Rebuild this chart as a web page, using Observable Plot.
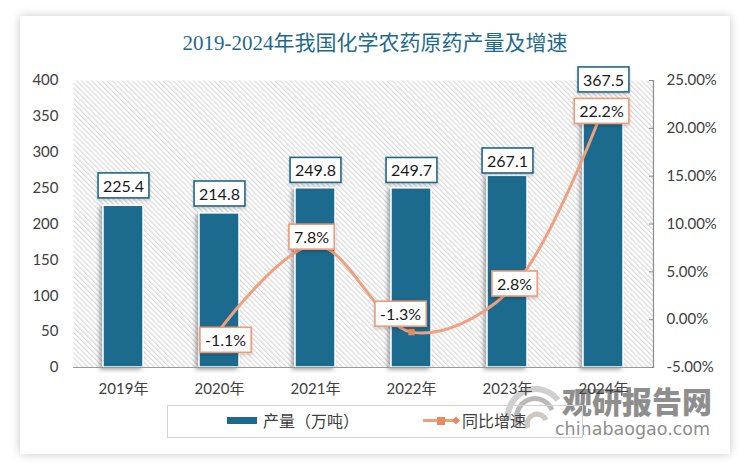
<!DOCTYPE html>
<html>
<head>
<meta charset="utf-8">
<script src="https://cdn.jsdelivr.net/npm/d3@7"></script>
<script src="https://cdn.jsdelivr.net/npm/@observablehq/plot@0.6"></script>
<style>
  html, body { margin: 0; padding: 0; background: #ffffff; }
  #wrap { position: relative; width: 750px; height: 471px; overflow: hidden; background: #fff; }
  #card { position: absolute; left: 20px; top: 16px; width: 710px; height: 438px; background: #fff;
          box-shadow: 0 0 9px rgba(0,0,0,0.22); }
  #title { position: absolute; left: 0; width: 750px; top: 29px; text-align: center;
           font-family: "Liberation Serif", "Noto Sans CJK SC", serif; font-size: 21px; color: #1e6a8d;
           line-height: 28px; white-space: nowrap; }
  #wm1 { position: absolute; left: 562px; top: 378px; font-family: "Noto Sans CJK SC", sans-serif; font-weight: 900;
         font-size: 30px; color: #8e8e8e; letter-spacing: 0px; line-height: 44px; white-space: nowrap; }
  #wm2 { position: absolute; left: 555px; top: 418px; font-family: "DejaVu Sans", sans-serif;
         font-size: 17.5px; color: #8e8e8e; line-height: 22px; white-space: nowrap; }
  #wmlogo { position: absolute; left: 500px; top: 380px; }
  #chart { position: absolute; left: 0; top: 0; }
  #legend { position: absolute; left: 167px; top: 405px; width: 414px; height: 31px; border: 1px solid #d3d3d3; }
  .lg { position: absolute; font-family: "Noto Sans CJK SC", sans-serif; font-size: 16px; color: #404040; line-height: 20px; white-space: nowrap; }
</style>
</head>
<body>
<div id="wrap">
  <div id="card"></div>
  <div id="title">2019-2024年我国化学农药原药产量及增速</div>
  <svg id="wmlogo" width="70" height="70" viewBox="0 0 70 70">
    <path d="M8,40 A28,28 0 0 1 58,20" fill="none" stroke="#cfcfcf" stroke-width="6"/>
    <path d="M18,44 A18,18 0 0 1 52,30" fill="none" stroke="#b9b9b9" stroke-width="5"/>
    <path d="M28,48 A9,9 0 0 1 46,40" fill="none" stroke="#cdc9bd" stroke-width="5"/>
  </svg>
  <div id="wm1">观研报告网</div>
  <div id="wm2">chinabaogao.com</div>
  <div id="chart"></div>
  <div id="legend"></div>
  <svg id="lgsym" style="position:absolute;left:0;top:0;" width="750" height="471">
    <rect x="227" y="417" width="30" height="7" fill="#1b6a8e"></rect>
    <line x1="423" y1="420.5" x2="459" y2="420.5" stroke="#f0a07e" stroke-width="3"></line>
    <rect x="437" y="417" width="8" height="8" fill="#e8895f"></rect>
    <path d="M452,420.5 L456,416.5 L460,420.5 L456,424.5 Z" fill="#e8895f"></path>
  </svg>
  <div class="lg" style="left:263px;top:410px;">产量（万吨）</div>
  <div class="lg" style="left:462px;top:410px;">同比增速</div>
</div>
<script>
// ---- data ----
const years = ["2019年", "2020年", "2021年", "2022年", "2023年", "2024年"];
const output = [225.4, 214.8, 249.8, 249.7, 267.1, 367.5];           // 产量（万吨）
const growth = [null, -1.1, 7.8, -1.3, 2.8, 22.2];                    // 同比增速 (%)
const leftTicks = [0, 50, 100, 150, 200, 250, 300, 350, 400];
const rightTicks = [-5, 0, 5, 10, 15, 20, 25];
const rightTickLabels = ["-5.00%", "0.00%", "5.00%", "10.00%", "15.00%", "20.00%", "25.00%"];

// label nudges in pixels (layout only)
const outputLabelDy = [-19, -18.5, -17, -17, -14, -23];
const growthLabelNudge = [null, [6, 11], [-4, -7], [-11, -17], [7, -8], [-2, 5]];

// ---- build ----
const rows = years.map((y, i) => ({year: y, output: output[i], growth: growth[i]}));
const lineRows = rows.filter(d => d.growth != null);
const g2y = g => (g + 5) / 30 * 400;   // map right-axis percent onto left scale domain

const BAR = "#1b6a8e";
const ORANGE = "#f0a07e";
const MARK = "#e8895f";

const labelMarks = [];
rows.forEach((d, i) => {
  labelMarks.push(Plot.text([d], {
    x: "year", y: "output", text: r => r.output.toFixed(1),
    dy: outputLabelDy[i], fontSize: 16, fill: "#1a1a1a", className: "lbl-prod"
  }));
});
rows.forEach((d, i) => {
  if (d.growth == null) return;
  const [dx, dy] = growthLabelNudge[i];
  labelMarks.push(Plot.text([d], {
    x: "year", y: r => g2y(r.growth), text: r => r.growth.toFixed(1) + "%",
    dx, dy, fontSize: 16, fill: "#1a1a1a", className: "lbl-growth"
  }));
});

const chart = Plot.plot({
  width: 750,
  height: 471,
  marginLeft: 73,
  marginRight: 97,
  marginTop: 80,
  marginBottom: 104,
  style: {fontFamily: "Lato, 'Noto Sans CJK SC', sans-serif", fontSize: "15px", color: "#404040", background: "transparent", overflow: "visible"},
  x: {domain: years, paddingInner: 0.58, paddingOuter: 0.29, label: null},
  y: {domain: [0, 400], label: null},
  marks: [
    Plot.frame({fill: "url(#hatch)", stroke: "none"}),
    Plot.barY(rows, {x: "year", y: "output", fill: BAR, stroke: "#ffffff", strokeWidth: 1.5, className: "bars"}),
    Plot.ruleY([0], {stroke: "#9a9a9a", strokeWidth: 1.2}),
    Plot.frame({anchor: "right", stroke: "#8c8c8c", strokeWidth: 1.2}),
    Plot.line(lineRows, {x: "year", y: d => g2y(d.growth), curve: "catmull-rom", stroke: ORANGE, strokeWidth: 3}),
    Plot.dot(lineRows, {x: "year", y: d => g2y(d.growth), symbol: "square", r: 3.6, fill: MARK, stroke: "none"}),
    ...labelMarks,
    Plot.axisY(leftTicks, {anchor: "left", tickSize: 0, tickPadding: 15, fontSize: 15, label: null}),
    Plot.axisY(rightTicks.map(g2y), {anchor: "right", tickSize: 5, dx: -5, tickPadding: 13, fontSize: 15, stroke: "#8c8c8c",
      tickFormat: (v) => rightTickLabels[rightTicks.indexOf(Math.round(v * 30 / 400 - 5))], label: null}),
    Plot.axisX({anchor: "bottom", tickSize: 0, tickPadding: 16, fontSize: 15, label: null})
  ]
});

document.getElementById("chart").append(chart);

// ---- decorations: hatch pattern, shadow, label boxes ----
const NS = "http://www.w3.org/2000/svg";
const defs = document.createElementNS(NS, "defs");
defs.innerHTML = `
  <pattern id="hatch" patternUnits="userSpaceOnUse" width="3.6" height="3.6" patternTransform="rotate(-45)">
    <rect width="3.6" height="3.6" fill="#ffffff"></rect>
    <line x1="0.6" y1="0" x2="0.6" y2="3.6" stroke="#d2d2d2" stroke-width="1"></line>
  </pattern>
  <filter id="shadow" x="-40%" y="-10%" width="180%" height="125%">
    <feDropShadow dx="-2.5" dy="2" stdDeviation="2" flood-color="#000" flood-opacity="0.35"></feDropShadow>
  </filter>
  <filter id="shadow2" x="-20%" y="-20%" width="140%" height="160%">
    <feDropShadow dx="0" dy="2" stdDeviation="1.5" flood-color="#000" flood-opacity="0.18"></feDropShadow>
  </filter>`;
chart.insertBefore(defs, chart.firstChild);

chart.querySelectorAll("g.bars").forEach(g => g.setAttribute("filter", "url(#shadow)"));

function boxLabels(cls, stroke) {
  chart.querySelectorAll("g." + cls + " text").forEach(t => {
    const b = t.getBBox();
    const r = document.createElementNS(NS, "rect");
    const px = 5, py = 3;
    r.setAttribute("x", b.x - px);
    r.setAttribute("y", b.y - py);
    r.setAttribute("width", b.width + 2 * px);
    r.setAttribute("height", b.height + 2 * py);
    r.setAttribute("fill", "#ffffff");
    r.setAttribute("stroke", stroke);
    r.setAttribute("stroke-width", "1.6");
    r.setAttribute("filter", "url(#shadow2)");
    const tr = t.getAttribute("transform");
    if (tr) r.setAttribute("transform", tr);
    t.parentNode.insertBefore(r, t);
  });
}
boxLabels("lbl-prod", "#21668a");
boxLabels("lbl-growth", "#eb9b78");
</script>
</body>
</html>
